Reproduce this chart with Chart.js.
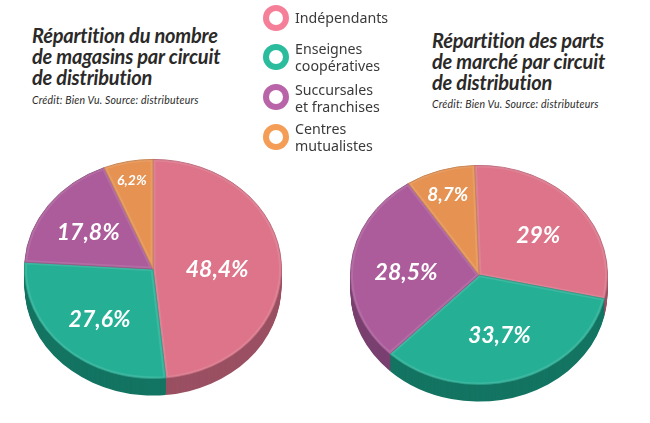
<!DOCTYPE html>
<html>
<head>
<meta charset="utf-8">
<script src="https://cdn.jsdelivr.net/npm/chart.js@4"></script>
<style>
html, body { margin: 0; padding: 0; background: #fff; overflow: hidden; }
canvas { position: absolute; }
.titre { position: absolute; font: italic 700 20px/21px Lato, sans-serif; color: #2b2a29; letter-spacing: -0.2px; white-space: nowrap; }
.credit { position: absolute; font: italic 400 10.5px Lato, sans-serif; color: #2b2a29; letter-spacing: 0.2px; white-space: nowrap; }
.leg { position: absolute; left: 295px; font: 400 14.2px/17px "Noto Sans", sans-serif; color: #3a3a3a; white-space: nowrap; }
.rond { position: absolute; left: 263px; width: 14px; height: 14px; border-radius: 50%; border-width: 6px; border-style: solid; }
</style>
</head>
<body>
<div class="titre" style="left:32px;top:25px">Répartition du nombre<br>de magasins par circuit<br>de distribution</div>
<div class="credit" style="left:32px;top:94px">Crédit: Bien Vu. Source: distributeurs</div>
<div class="titre" style="left:432px;top:30px">Répartition des parts<br>de marché par circuit<br>de distribution</div>
<div class="credit" style="left:432px;top:98px">Crédit: Bien Vu. Source: distributeurs</div>
<canvas id="grafico1" width="278" height="278" style="left:14px;top:130px"></canvas>
<canvas id="grafico2" width="278" height="278" style="left:340px;top:136px"></canvas>
<script>
var categorias = ['Indépendants', 'Enseignes coopératives', 'Succursales et franchises', 'Centres mutualistes'];
var linhasLegenda = [['Indépendants'], ['Enseignes', 'coopératives'], ['Succursales', 'et franchises'], ['Centres', 'mutualistes']];
var magasins = [48.4, 27.6, 17.8, 6.2];
var partsMarche = [29, 33.7, 28.5, 8.7];
var coresTopo = ['#dd7489', '#25b095', '#ac5c9b', '#e69252'];
var coresLado = ['#9a5062', '#137462', '#7a4070', '#a56a34'];
var coresBorda = ['#b85f72', '#1f947d', '#8e4c80', '#c07a44'];
var coresLegenda = ['#f57f98', '#2bbb9d', '#b964a8', '#f49d57'];

var achatamento = 110 / 129;
var profundidade = 17;

// legend is plain html
var topos = [5, 44, 84, 124];
var textos = [9, 40, 81, 120];
linhasLegenda.forEach(function (linhas, i) {
    var rond = document.createElement('div');
    rond.className = 'rond';
    rond.style.top = topos[i] + 'px';
    rond.style.borderColor = coresLegenda[i];
    document.body.appendChild(rond);
    var t = document.createElement('div');
    t.className = 'leg';
    t.style.top = textos[i] + 'px';
    t.innerHTML = linhas.join('<br>');
    document.body.appendChild(t);
});

function fatia(ctx, a, dy) {
    ctx.beginPath();
    ctx.moveTo(a.x, a.y + dy);
    ctx.arc(a.x, a.y + dy, a.outerRadius, a.startAngle, a.endAngle);
    ctx.closePath();
}

// flattens the pie into an ellipse and paints the side wall under it
var pie3d = {
    id: 'pie3d',
    beforeDatasetsDraw: function (chart) {
        var ctx = chart.ctx;
        var arcos = chart.getDatasetMeta(0).data;
        var cy = arcos[0].y;
        ctx.save();
        ctx.translate(0, cy);
        ctx.scale(1, achatamento);
        ctx.translate(0, -cy);
        for (var d = profundidade; d > 0; d--) {
            arcos.forEach(function (a, i) {
                ctx.fillStyle = coresLado[i];
                fatia(ctx, a, d / achatamento);
                ctx.fill();
            });
        }
    },
    afterDatasetsDraw: function (chart) {
        var ctx = chart.ctx;
        // soft bevel inside each slice
        chart.getDatasetMeta(0).data.forEach(function (a) {
            ctx.save();
            fatia(ctx, a, 0);
            ctx.clip();
            fatia(ctx, a, 0);
            ctx.lineWidth = 5;
            ctx.strokeStyle = 'rgba(255,255,255,0.1)';
            ctx.stroke();
            ctx.restore();
        });
        ctx.restore();
    },
    afterDraw: function (chart) {
        var ctx = chart.ctx;
        var op = chart.options.plugins.pie3d;
        var arcos = chart.getDatasetMeta(0).data;
        var valores = chart.data.datasets[0].data;
        ctx.save();
        ctx.fillStyle = '#fff';
        ctx.textAlign = 'center';
        ctx.textBaseline = 'middle';
        arcos.forEach(function (a, i) {
            var meio = (a.startAngle + a.endAngle) / 2;
            var r = a.outerRadius * op.raios[i];
            var x = a.x + Math.cos(meio) * r;
            var y = a.y + Math.sin(meio) * r * achatamento + 3;
            ctx.font = 'italic 700 ' + op.fontes[i] + 'px Lato, sans-serif';
            ctx.fillText(String(valores[i]).replace('.', ',') + '%', x, y);
        });
        ctx.restore();
    }
};

function criaGrafico(idGrafico, dados, rotacao, raios, fontes) {
    var ctx = document.getElementById(idGrafico).getContext('2d');
    return new Chart(ctx, {
        type: 'pie',
        plugins: [pie3d],
        data: {
            labels: categorias,
            datasets: [{
                data: dados,
                backgroundColor: coresTopo,
                borderColor: coresBorda,
                borderWidth: 1
            }]
        },
        options: {
            responsive: false,
            animation: false,
            rotation: rotacao,
            layout: { padding: 10 },
            plugins: {
                legend: { display: false },
                tooltip: { enabled: false },
                pie3d: { raios: raios, fontes: fontes }
            }
        }
    });
}

criaGrafico('grafico1', magasins, 0, [0.5, 0.6, 0.62, 0.85], [23, 23, 23, 14]);
criaGrafico('grafico2', partsMarche, -2, [0.6, 0.55, 0.57, 0.8], [23, 23, 23, 19]);
</script>
</body>
</html>
